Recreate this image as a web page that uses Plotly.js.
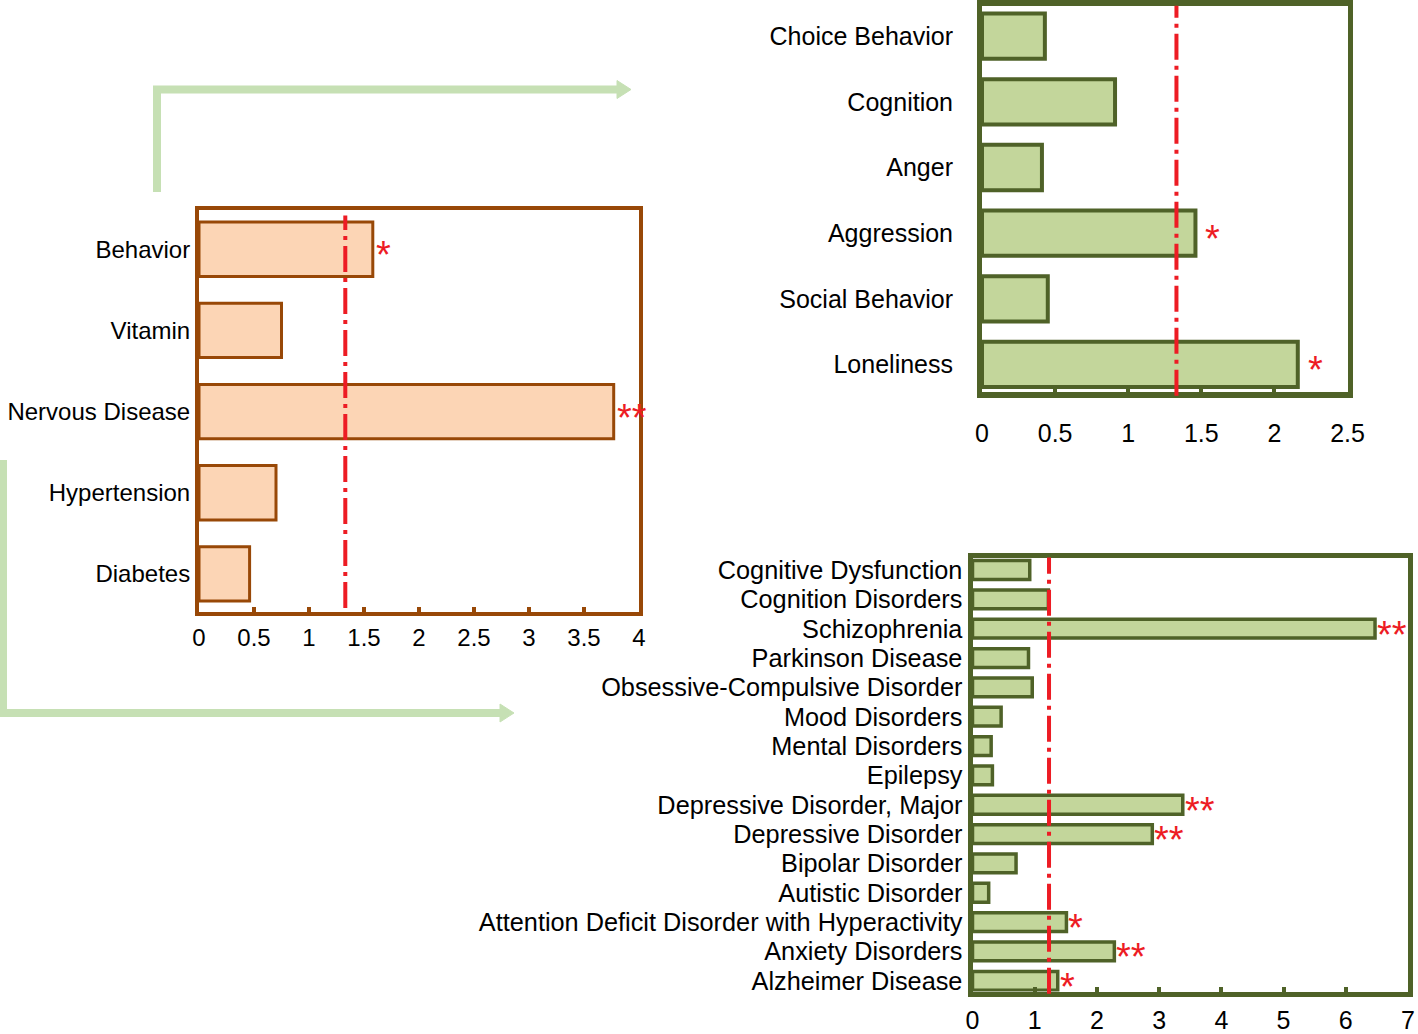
<!DOCTYPE html>
<html>
<head>
<meta charset="utf-8">
<script src="https://cdn.plot.ly/plotly-3.0.1.min.js"></script>
<style>body{margin:0;background:#fff}</style>
</head>
<body>
<div id="chart" style="width:1418px;height:1034px"></div>
<script>
// enrichment of topics (left), behaviour terms (top right), disease terms (bottom right)
const topicLabels = ['Behavior', 'Vitamin', 'Nervous Disease', 'Hypertension', 'Diabetes'];
const topicValues = [1.58, 0.75, 3.77, 0.70, 0.46];
const topicStars = ['*', '', '**', '', ''];

const behaviorLabels = ['Choice Behavior', 'Cognition', 'Anger', 'Aggression', 'Social Behavior', 'Loneliness'];
const behaviorValues = [0.43, 0.91, 0.41, 1.46, 0.45, 2.16];
const behaviorStars = ['', '', '', '*', '', '*'];

const diseaseLabels = ['Cognitive Dysfunction', 'Cognition Disorders', 'Schizophrenia', 'Parkinson Disease',
    'Obsessive-Compulsive Disorder', 'Mood Disorders', 'Mental Disorders', 'Epilepsy',
    'Depressive Disorder, Major', 'Depressive Disorder', 'Bipolar Disorder', 'Autistic Disorder',
    'Attention Deficit Disorder with Hyperactivity', 'Anxiety Disorders', 'Alzheimer Disease'];
const diseaseValues = [0.92, 1.22, 6.47, 0.90, 0.96, 0.46, 0.30, 0.32, 3.38, 2.89, 0.70, 0.26, 1.51, 2.28, 1.37];
const diseaseStars = ['', '', '**', '', '', '', '', '', '**', '**', '', '', '*', '**', '*'];

const topicCutoff = 1.33;
const behaviorCutoff = 1.33;
const diseaseCutoff = 1.23;

const W = 1418, H = 1034;
const px = x => x / W;
const py = y => 1 - y / H;

const BROWN = '#984807';
const PEACH = '#fcd5b5';
const OLIVE = '#4f6228';
const GREEN = '#c3d69b';
const ARROW = '#c6e0b4';
const RED = '#ed1c24';
const FONT = 'Liberation Sans, Arial, sans-serif';

function barTrace(labels, values, fill, edge, width, lw, xa, ya) {
    return {
        type: 'bar', orientation: 'h',
        x: values, y: labels, width: width,
        xaxis: xa, yaxis: ya,
        marker: {color: fill, line: {color: edge, width: lw}},
        hoverinfo: 'x+y'
    };
}

var data = [
    barTrace(topicLabels, topicValues, PEACH, BROWN, 0.67, 3, 'x', 'y'),
    barTrace(behaviorLabels, behaviorValues, GREEN, OLIVE, 0.69, 4, 'x2', 'y2'),
    barTrace(diseaseLabels, diseaseValues, GREEN, OLIVE, 0.64, 3.5, 'x3', 'y3')
];

function xAxis(domain, range, dtick, color, lw, size, standoff, anchor) {
    return {
        domain: domain, range: range, dtick: dtick, anchor: anchor,
        showline: true, linecolor: color, linewidth: lw, mirror: true,
        ticks: 'inside', ticklen: 5, tickwidth: 4, tickcolor: color,
        showgrid: false, zeroline: false, fixedrange: true,
        tickfont: {size: size, color: '#000', family: FONT},
        ticklabelstandoff: standoff
    };
}
function yAxis(labels, domain, range, color, lw, size, standoff, anchor) {
    return {
        domain: domain, range: range, type: 'category', anchor: anchor,
        tickmode: 'array', tickvals: labels, ticktext: labels,
        showline: true, linecolor: color, linewidth: lw, mirror: true,
        ticks: '', showgrid: false, zeroline: false, fixedrange: true,
        tickfont: {size: size, color: '#000', family: FONT},
        ticklabelstandoff: standoff
    };
}

// red dash-dot significance line on each panel
function cutoffLine(x, xref, yref, y0, y1) {
    return {
        type: 'line', xref: xref, yref: yref + ' domain',
        x0: x, x1: x, y0: y0, y1: y1,
        line: {color: RED, width: 4, dash: '26px,6px,4px,6px'}
    };
}

// green connector arrows, drawn in page pixels
function arrowShapes(points, tip) {
    var d = 'M' + points.map(p => px(p[0]) + ',' + py(p[1])).join(' L');
    var head = 'M' + px(tip[0] - 14) + ',' + py(tip[1] - 9) +
        ' L' + px(tip[0]) + ',' + py(tip[1]) +
        ' L' + px(tip[0] - 14) + ',' + py(tip[1] + 9) + ' Z';
    return [
        {type: 'path', xref: 'paper', yref: 'paper', path: d, line: {color: ARROW, width: 8}},
        {type: 'path', xref: 'paper', yref: 'paper', path: head, fillcolor: ARROW, line: {color: ARROW, width: 1}}
    ];
}

var shapes = [].concat(
    arrowShapes([[157, 192], [157, 89.5], [620, 89.5]], [631, 89.5]),
    arrowShapes([[3, 460], [3, 713], [502, 713]], [514, 713]),
    [cutoffLine(topicCutoff, 'x', 'y', 0.01, 0.985),
     cutoffLine(behaviorCutoff, 'x2', 'y2', -0.01, 1),
     cutoffLine(diseaseCutoff, 'x3', 'y3', -0.005, 1)]
);

var annotations = [];
function addStars(labels, values, stars, xa, ya, shift) {
    stars.forEach(function(s, i) {
        if (!s) return;
        annotations.push({
            x: values[i], y: labels[i], xref: xa, yref: ya,
            text: s, showarrow: false, xanchor: 'left', yanchor: 'middle',
            xshift: shift, yshift: -6,
            font: {size: 38, color: RED, family: FONT}
        });
    });
}
addStars(topicLabels, topicValues, topicStars, 'x', 'y', 1);
addStars(behaviorLabels, behaviorValues, behaviorStars, 'x2', 'y2', 8);
addStars(diseaseLabels, diseaseValues, diseaseStars, 'x3', 'y3', 0);

var layout = {
    width: W, height: H, autosize: false,
    margin: {l: 0, r: 0, t: 0, b: 0},
    paper_bgcolor: '#fff', plot_bgcolor: 'rgba(0,0,0,0)',
    showlegend: false, bargap: 0,
    font: {family: FONT, color: '#000'},
    xaxis: xAxis([px(199), px(639)], [0, 4], 0.5, BROWN, 4, 24, 1, 'y'),
    yaxis: yAxis(topicLabels, [py(612), py(209.5)], [4.47, -0.49], BROWN, 4, 24, 0, 'x'),
    xaxis2: xAxis([px(982), px(1347.5)], [0, 2.5], 0.5, OLIVE, 6, 25, 14, 'y2'),
    yaxis2: yAxis(behaviorLabels, [py(392), py(5.7)], [5.42, -0.465], OLIVE, 5, 25, 19, 'x2'),
    xaxis3: xAxis([px(972.5), px(1408)], [0, 7], 1, OLIVE, 5, 25, 2, 'y3'),
    yaxis3: yAxis(diseaseLabels, [py(991.5), py(557.5)], [14.365, -0.426], OLIVE, 5, 25.3, 0, 'x3'),
    shapes: shapes,
    annotations: annotations
};

Plotly.newPlot('chart', data, layout, {displayModeBar: false, staticPlot: true});
</script>
</body>
</html>
